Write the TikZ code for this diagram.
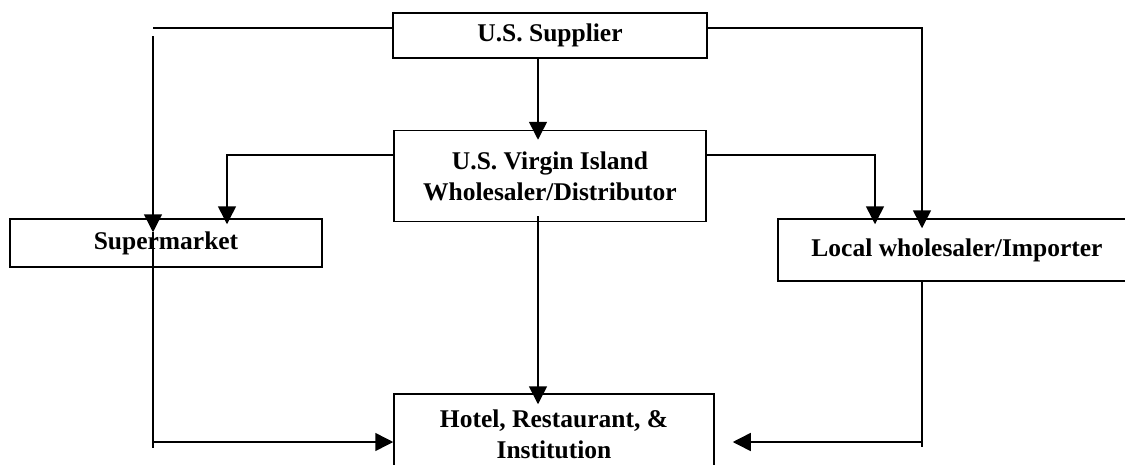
\documentclass[tikz,border=0pt]{standalone}
\usepackage{fontspec}
\setmainfont{Liberation Serif}
\usepackage{tikz}
\usetikzlibrary{arrows.meta,calc}

\begin{document}
\begin{tikzpicture}[
    x=1pt, y=-1pt,
    block/.style={draw, line width=1.5pt, inner sep=0pt, align=center,
        font=\bfseries\fontsize{25.5}{31}\selectfont},
    wire/.style={draw, line width=1.5pt},
    link/.style={wire, -{Triangle[length=18pt,width=18pt]}}
]
\useasboundingbox (0,0) rectangle (1125,464);
\node[block, minimum width=314pt, minimum height=45pt] (supplier) at (550,35.5) {U.S. Supplier};
\node[block, minimum width=312pt, minimum height=91pt] (virgin) at (550,176) {U.S. Virgin Island\\Wholesaler/Distributor};
\node[block, minimum width=312pt, minimum height=48pt] (market) at (166,243) {Supermarket};
\node[block, minimum width=358pt, minimum height=62pt] (local) at (957,250) {Local wholesaler/Importer};
\node[block, minimum width=320pt, minimum height=80pt] (hri) at (554,434) {Hotel, Restaurant, \&\\Institution};

\coordinate (sx) at (538,0);
\coordinate (sL) at (153,28);
\coordinate (sR) at (922,28);
\coordinate (vL) at (227,155);
\coordinate (vR) at (875,155);
\coordinate (bL) at (153,442);
\coordinate (bR) at (922,442);

\draw[link, shorten >=-10pt] (supplier.south -| sx) -- (virgin.north -| sx);
\draw[link, shorten >=-6pt] (virgin.west |- vL) -- (vL) -- (market.north -| vL);
\draw[link, shorten >=-6pt] (virgin.east |- vR) -- (vR) -- (local.north -| vR);
\draw[wire] (supplier.west |- sL) -- (sL);
\draw[link, shorten >=-14pt] ($(sL)+(0,8)$) -- (market.north -| sL);
\draw[link, shorten >=-10pt] (supplier.east |- sR) -- (sR) -- (local.north -| sR);
\draw[link, shorten <=-6pt, shorten >=-11pt] (virgin.south -| sx) -- (hri.north -| sx);
\draw[wire] ($(market.north -| sL)+(0,14)$) -- ($(bL)+(0,6)$);
\draw[link] (bL) -- (hri.west |- bL);
\draw[wire] (local.south -| sR) -- ($(bR)+(0,5)$);
\draw[link, shorten >=18pt] (bR) -- (hri.east |- bR);
\end{tikzpicture}
\end{document}
